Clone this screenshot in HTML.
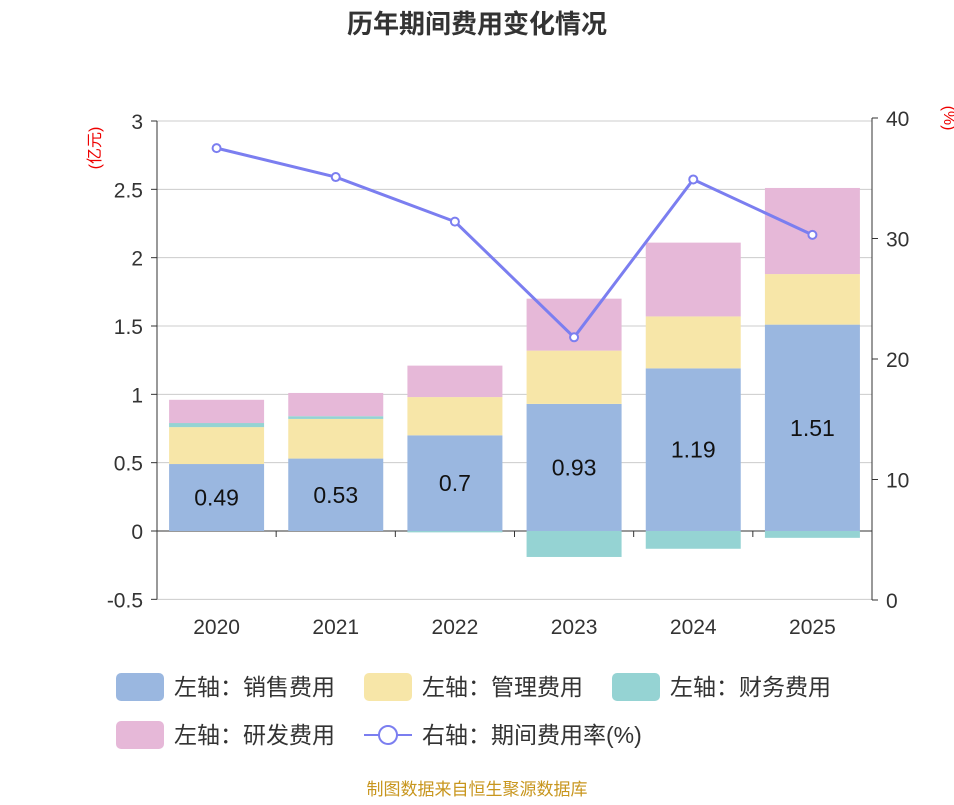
<!DOCTYPE html>
<html><head><meta charset="utf-8">
<style>
body{margin:0;background:#fff;font-family:"Liberation Sans","Noto Sans CJK SC",sans-serif;}
svg text{font-family:"Liberation Sans","Noto Sans CJK SC",sans-serif;}
</style></head>
<body>
<svg id="chart" width="954" height="800" xmlns="http://www.w3.org/2000/svg">
<text x="477" y="33" text-anchor="middle" font-size="26" font-weight="bold" fill="#333">历年期间费用变化情况</text>
<text transform="translate(100,148) rotate(-90)" text-anchor="middle" font-size="16" fill="#e00">(亿元)</text>
<text transform="translate(944,118) rotate(90)" text-anchor="middle" font-size="16" fill="#e00">(%)</text>
<g id="grid"></g><g id="bars"></g><g id="axes"></g><g id="line"></g>
<g font-size="23" fill="#333">
<rect x="116" y="673" width="48" height="28" rx="5" fill="#9ab7e0"/>
<text x="174" y="695">左轴：销售费用</text>
<rect x="364" y="673" width="48" height="28" rx="5" fill="#f7e6a8"/>
<text x="422" y="695">左轴：管理费用</text>
<rect x="612" y="673" width="48" height="28" rx="5" fill="#95d3d3"/>
<text x="670" y="695">左轴：财务费用</text>
<rect x="116" y="721" width="48" height="28" rx="5" fill="#e6b8d8"/>
<text x="174" y="743">左轴：研发费用</text>
<line x1="364" y1="735" x2="412" y2="735" stroke="#7b7ef0" stroke-width="2"/>
<circle cx="388" cy="735" r="9" fill="#fff" stroke="#7b7ef0" stroke-width="2"/>
<text x="422" y="743">右轴：期间费用率(%)</text>
</g>
<text x="477" y="795" text-anchor="middle" font-size="17" fill="#c8961e">制图数据来自恒生聚源数据库</text>
</svg>
<script>
const categories=["2020","2021","2022","2023","2024","2025"];
const sales=[0.49,0.53,0.70,0.93,1.19,1.51];
const mgmt=[0.27,0.29,0.28,0.39,0.38,0.37];
const finance=[0.03,0.02,-0.01,-0.19,-0.13,-0.05];
const rnd=[0.17,0.17,0.23,0.38,0.54,0.63];
const rate=[37.5,35.1,31.4,21.8,34.9,30.3];
const leftTicks=[-0.5,0,0.5,1,1.5,2,2.5,3];
const rightTicks=[0,10,20,30,40];
const NS="http://www.w3.org/2000/svg";
const x0=157,x1=872;
const yL=v=>531-(v)*(410/3);
const yR=v=>600-v*(482/40);
const band=(x1-x0)/categories.length;
const xc=i=>x0+band*(i+0.5);
function mk(tag,attrs,parent){const e=document.createElementNS(NS,tag);for(const k in attrs)e.setAttribute(k,attrs[k]);document.getElementById(parent).appendChild(e);return e;}
leftTicks.forEach(t=>{
 const y=yL(t);
 const g=mk("line",{x1:x0,x2:x1,y1:y,y2:y,stroke:t===0?"#333":"#ccc","stroke-width":1},"grid");
 
 
 mk("line",{x1:x0-6,x2:x0,y1:y,y2:y,stroke:"#333"},"axes");
 const tx=mk("text",{x:x0-14,y:y+8,"text-anchor":"end","font-size":21,fill:"#333"},"axes");
 tx.textContent=String(t);
 
 
});
rightTicks.forEach(t=>{
 const y=yR(t);
 mk("line",{x1:x1,x2:x1+6,y1:y,y2:y,stroke:"#333"},"axes");
 const tx=mk("text",{x:x1+14,y:y+8,"font-size":21,fill:"#333"},"axes");
 tx.textContent=String(t);
 
 
});
mk("line",{x1:x0,x2:x0,y1:yL(3),y2:yL(-0.5),stroke:"#333"},"axes");
mk("line",{x1:x1,x2:x1,y1:yR(40),y2:yR(0),stroke:"#333"},"axes");
for(let i=0;i<=categories.length;i++){const x=x0+band*i;mk("line",{x1:x,x2:x,y1:531,y2:537,stroke:"#333"},"axes");}
categories.forEach((c,i)=>{
 const tx=mk("text",{x:xc(i),y:634,"text-anchor":"middle","font-size":21,fill:"#333"},"axes");
 tx.textContent=c;
 
 
});
const bw=95;
const series=[[sales,"#9ab7e0","bar-sales"],[mgmt,"#f7e6a8","bar-mgmt"],[finance,"#95d3d3","bar-finance"],[rnd,"#e6b8d8","bar-rnd"]];
categories.forEach((c,i)=>{
 let pos=0,neg=0;
 series.forEach(([arr,col,name])=>{
  const v=arr[i];let a,b;
  if(v>=0){a=pos;b=pos+v;pos=b;}else{a=neg;b=neg+v;neg=b;}
  const yt=yL(Math.max(a,b)),yb=yL(Math.min(a,b));
  const r=mk("rect",{x:xc(i)-bw/2,y:yt,width:bw,height:Math.max(yb-yt,0.5),fill:col},"bars");
  
  
 });
 const lb=mk("text",{x:xc(i),y:yL(sales[i]/2)+8,"text-anchor":"middle","font-size":23,fill:"#111"},"bars");
 lb.textContent=String(sales[i]);
 
 
});
const pts=rate.map((v,i)=>xc(i)+","+yR(v)).join(" ");
const pl=mk("polyline",{points:pts,fill:"none",stroke:"#7b7ef0","stroke-width":3},"line");


rate.forEach((v,i)=>{
 const c=mk("circle",{cx:xc(i),cy:yR(v),r:4,fill:"#fff",stroke:"#7b7ef0","stroke-width":2},"line");
 
 
});
</script>
</body></html>
